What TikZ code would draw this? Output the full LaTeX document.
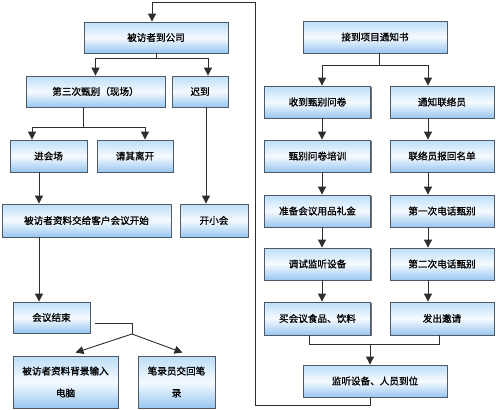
\documentclass[tikz,border=0pt]{standalone}
\usepackage{fontspec}
\newfontfamily\cjk{Noto Sans CJK SC}[FakeBold=1.2]
\usetikzlibrary{arrows.meta,shadows,calc}
\definecolor{boxtop}{HTML}{BCDDF8}
\definecolor{boxmid}{HTML}{F6FBFF}
\definecolor{boxbot}{HTML}{98C6F0}
\definecolor{boxline}{HTML}{505A66}
\definecolor{conn}{HTML}{2E2E2E}
\pgfdeclareverticalshading{boxshade}{100bp}{color(0bp)=(boxbot); color(25bp)=(boxbot); color(50bp)=(boxmid); color(75bp)=(boxtop); color(100bp)=(boxtop)}
\tikzset{
  bx/.style={draw=boxline, line width=0.8pt, shading=boxshade,
    drop shadow={shadow xshift=1.2pt, shadow yshift=-1.2pt, fill=black!70, opacity=0.8},
    font=\cjk\fontsize{9.6}{11}\selectfont, inner sep=0pt, align=center},
  ln/.style={draw=conn, line width=0.9pt},
  arr/.style={ln, -{Triangle[width=8pt,length=8pt]}},
}
\begin{document}
\begin{tikzpicture}[x=1pt,y=-1pt]
\useasboundingbox (0,0) rectangle (496,410);
% left part
\node[bx, minimum width=144pt, minimum height=31pt] (n1) at (156,37.5) {被访者到公司};
\node[bx, minimum width=139pt, minimum height=31pt] (n2) at (95.5,91.5) {第三次甄别（现场）};
\node[bx, minimum width=56pt, minimum height=31pt] (n3) at (200,91.5) {迟到};
\node[bx, minimum width=77pt, minimum height=32pt] (n4) at (48.5,156) {进会场};
\node[bx, minimum width=76pt, minimum height=32pt] (n5) at (135,156) {请其离开};
\node[bx, minimum width=68pt, minimum height=33pt] (n6) at (214,220.5) {开小会};
\node[bx, minimum width=169pt, minimum height=33pt] (n7) at (86.5,220.5) {被访者资料交给客户会议开始};
\node[bx, minimum width=77pt, minimum height=31pt] (n8) at (51.5,317.5) {会议结束};
\node[bx, minimum width=105pt, minimum height=52pt] (n9) at (65.5,382) {被访者资料背景输入\\[11pt]电脑};
\node[bx, minimum width=77pt, minimum height=52pt] (n10) at (176.5,382) {笔录员交回笔\\[11pt]录};
% right part
\node[bx, minimum width=144pt, minimum height=32pt] (r0) at (375,37) {接到项目通知书};
\node[bx, minimum width=106pt, minimum height=32pt] (r1) at (317.5,102) {收到甄别问卷};
\node[bx, minimum width=104pt, minimum height=32pt] (r2) at (442,102) {通知联络员};
\node[bx, minimum width=106pt, minimum height=32pt] (r3) at (317.5,156) {甄别问卷培训};
\node[bx, minimum width=104pt, minimum height=32pt] (r4) at (442,156) {联络员报回名单};
\node[bx, minimum width=106pt, minimum height=32pt] (r5) at (317.5,211) {准备会议用品礼金};
\node[bx, minimum width=104pt, minimum height=32pt] (r6) at (442,211) {第一次电话甄别};
\node[bx, minimum width=106pt, minimum height=32pt] (r7) at (317.5,264) {调试监听设备};
\node[bx, minimum width=104pt, minimum height=32pt] (r8) at (442,264) {第二次电话甄别};
\node[bx, minimum width=106pt, minimum height=33pt] (r9) at (317.5,318.5) {买会议食品、饮料};
\node[bx, minimum width=104pt, minimum height=33pt] (r10) at (442,318.5) {发出邀请};
\node[bx, minimum width=144pt, minimum height=32pt] (r11) at (375,381) {监听设备、人员到位};
% coordinates
\coordinate (ca) at (322,0);
\coordinate (cb) at (428,0);
\coordinate (fbl) at (255,405);
\coordinate (fbt) at (255,2);
\coordinate (j8) at (132,334);
% feedback loop
\draw[arr] ([xshift=-5pt]r11.south) |- (fbl) -- (fbt) -| ([xshift=-4pt]n1.north);
% left connectors
\draw[ln] (n1.south) -- ++(0,5) coordinate (j1);
\draw[arr] (j1) -| (n2.north);
\draw[arr] (j1) -| ([xshift=8pt]n3.north);
\draw[ln] ([xshift=-12.5pt]n2.south) -- ++(0,20) coordinate (j2);
\draw[arr] (j2) -| ([xshift=-16.5pt]n4.north);
\draw[arr] (j2) -| ([xshift=10pt]n5.north);
\draw[arr] ([xshift=6pt]n3.south) -- ([xshift=-8pt]n6.north);
\draw[arr] ([xshift=-9.5pt]n4.south) -- ([xshift=-47.5pt]n7.north);
\draw[arr] ([xshift=-47.5pt]n7.south) -- ([xshift=-12.5pt]n8.north);
\draw[ln] ([xshift=5pt,yshift=-5.5pt]n8.east) -| (j8);
\draw[arr] (j8) -- ([xshift=10pt,yshift=3pt]n9.north);
\draw[arr] (j8) -- ([xshift=6pt,yshift=3pt]n10.north);
% right connectors
\draw[ln] ([xshift=4pt]r0.south) -- ++(0,12) coordinate (j0);
\draw[arr] (j0) -| (r1.north -| ca);
\draw[arr] (j0) -| (r2.north -| cb);
\draw[arr] (r1.south -| ca) -- (r3.north -| ca);
\draw[arr] (r3.south -| ca) -- (r5.north -| ca);
\draw[arr] (r5.south -| ca) -- (r7.north -| ca);
\draw[arr] (r7.south -| ca) -- (r9.north -| ca);
\draw[arr] (r2.south -| cb) -- (r4.north -| cb);
\draw[arr] (r4.south -| cb) -- (r6.north -| cb);
\draw[arr] (r6.south -| cb) -- (r8.north -| cb);
\draw[arr] (r8.south -| cb) -- (r10.north -| cb);
\draw[ln] ([xshift=-8.5pt]r9.south) -- ++(0,9) -| ([xshift=-3pt]r10.south);
\coordinate (j9) at ($([xshift=-8.5pt]r9.south)+(0,9)$);
\draw[arr] (j9 -| r11.north) ++(-5,0) -- ([xshift=-5pt]r11.north);
\end{tikzpicture}
\end{document}
